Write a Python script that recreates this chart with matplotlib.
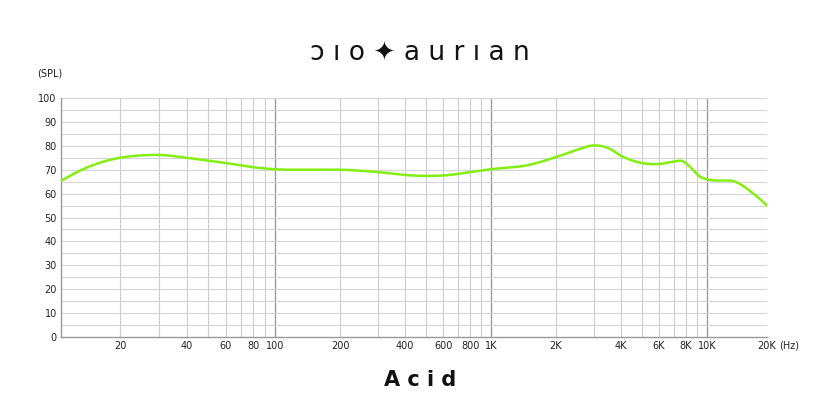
import numpy as np
import matplotlib
matplotlib.use("Agg")
import matplotlib.pyplot as plt

# frequency response (Hz, dB SPL)
freq = [10.7, 13, 16, 20, 25, 30, 40, 50, 60, 80, 100, 150, 200, 300, 400, 500, 600,
        700, 800, 1000, 1500, 2000, 2500, 3000, 3500, 4000, 5000, 6000, 7000, 7700,
        8500, 9200, 10000, 11000, 12000, 13500, 15000, 16500, 18000, 20000]
spl = [65.3, 69.5, 72.8, 75.0, 76.0, 76.2, 75.0, 73.8, 72.8, 71.0, 70.2, 70.0, 70.0, 69.0,
       67.8, 67.4, 67.6, 68.2, 69.0, 70.2, 72.0, 75.3, 78.3, 80.2, 79.0, 75.8, 72.8, 72.4,
       73.4, 73.6, 70.5, 67.3, 66.0, 65.5, 65.5, 65.3, 63.5, 61.0, 58.5, 55.0]

xticks = [20, 40, 60, 80, 100, 200, 400, 600, 800, 1000, 2000, 4000, 6000, 8000, 10000, 20000]
xlabels = ["20", "40", "60", "80", "100", "200", "400", "600", "800", "1K",
           "2K", "4K", "6K", "8K", "10K", "20K"]
yticks = list(range(0, 101, 10))

# the chart's frequency axis is log, but with slightly uneven spacing at the ends
anchor_f = np.log10([10.7, 20, 100, 1000, 10000, 20000])
anchor_u = np.array([0, 59, 214, 430, 646, 706]) / 706.0

def fwd(f):
    lf = np.log10(np.clip(f, 1e-3, None))
    return np.interp(lf, anchor_f, anchor_u)

def inv(u):
    return 10 ** np.interp(u, anchor_u, anchor_f)

fig = plt.figure(figsize=(8.4, 4.2), dpi=100)
ax = fig.add_axes([0.0726, 0.1976, 0.8405, 0.569])

# smooth curve through read points (cubic hermite in log-frequency)
def hermite(x, y, xs):
    x = np.asarray(x); y = np.asarray(y)
    m = np.gradient(y, x)
    idx = np.clip(np.searchsorted(x, xs) - 1, 0, len(x) - 2)
    h = x[idx + 1] - x[idx]
    t = (xs - x[idx]) / h
    h00 = 2*t**3 - 3*t**2 + 1
    h10 = t**3 - 2*t**2 + t
    h01 = -2*t**3 + 3*t**2
    h11 = t**3 - t**2
    return h00*y[idx] + h10*h*m[idx] + h01*y[idx+1] + h11*h*m[idx+1]

lf = np.log10(freq)
xs = np.linspace(lf[0], lf[-1], 800)
ys = hermite(lf, spl, xs)

ax.set_xscale("function", functions=(fwd, inv))
ax.set_xlim(10.7, 20000)
ax.set_ylim(0, 100)

# grid
for f in [20, 30, 40, 50, 60, 70, 80, 90, 200, 300, 400, 500, 600, 700, 800, 900,
          2000, 3000, 4000, 5000, 6000, 7000, 8000, 9000, 20000]:
    ax.axvline(f, color="#cccccc", lw=0.8, zorder=1)
for f in [100, 1000, 10000]:
    ax.axvline(f, color="#9a9a9a", lw=1.0, zorder=1)
for v in range(5, 101, 5):
    ax.axhline(v, color="#d4d4d4", lw=0.8, zorder=1)

ax.plot(10**xs, ys, color="#84ee10", lw=1.8, zorder=3)

ax.set_xticks(xticks)
ax.set_xticklabels(xlabels)
ax.xaxis.set_minor_locator(matplotlib.ticker.NullLocator())
ax.set_yticks(yticks)
ax.tick_params(length=0, labelsize=7, colors="#222222", pad=3)
for s in ["top", "right"]:
    ax.spines[s].set_visible(False)
for s in ["left", "bottom"]:
    ax.spines[s].set_color("#999999")
    ax.spines[s].set_linewidth(1.0)

fig.text(0.0595, 0.826, "(SPL)", fontsize=7, ha="center", va="center", color="#222222")
fig.text(0.94, 0.178, "(Hz)", fontsize=7, ha="center", va="center", color="#222222")
logo = " ".join("ɔıo✦aurıan")
fig.text(0.5, 0.872, logo, fontsize=19, ha="center", va="center",
         color="#111111", family=["DejaVu Sans"])
fig.text(0.5, 0.095, "A c i d", fontsize=15, fontweight="bold", ha="center", va="center",
         color="#111111")

fig.savefig("out.png", dpi=100)
